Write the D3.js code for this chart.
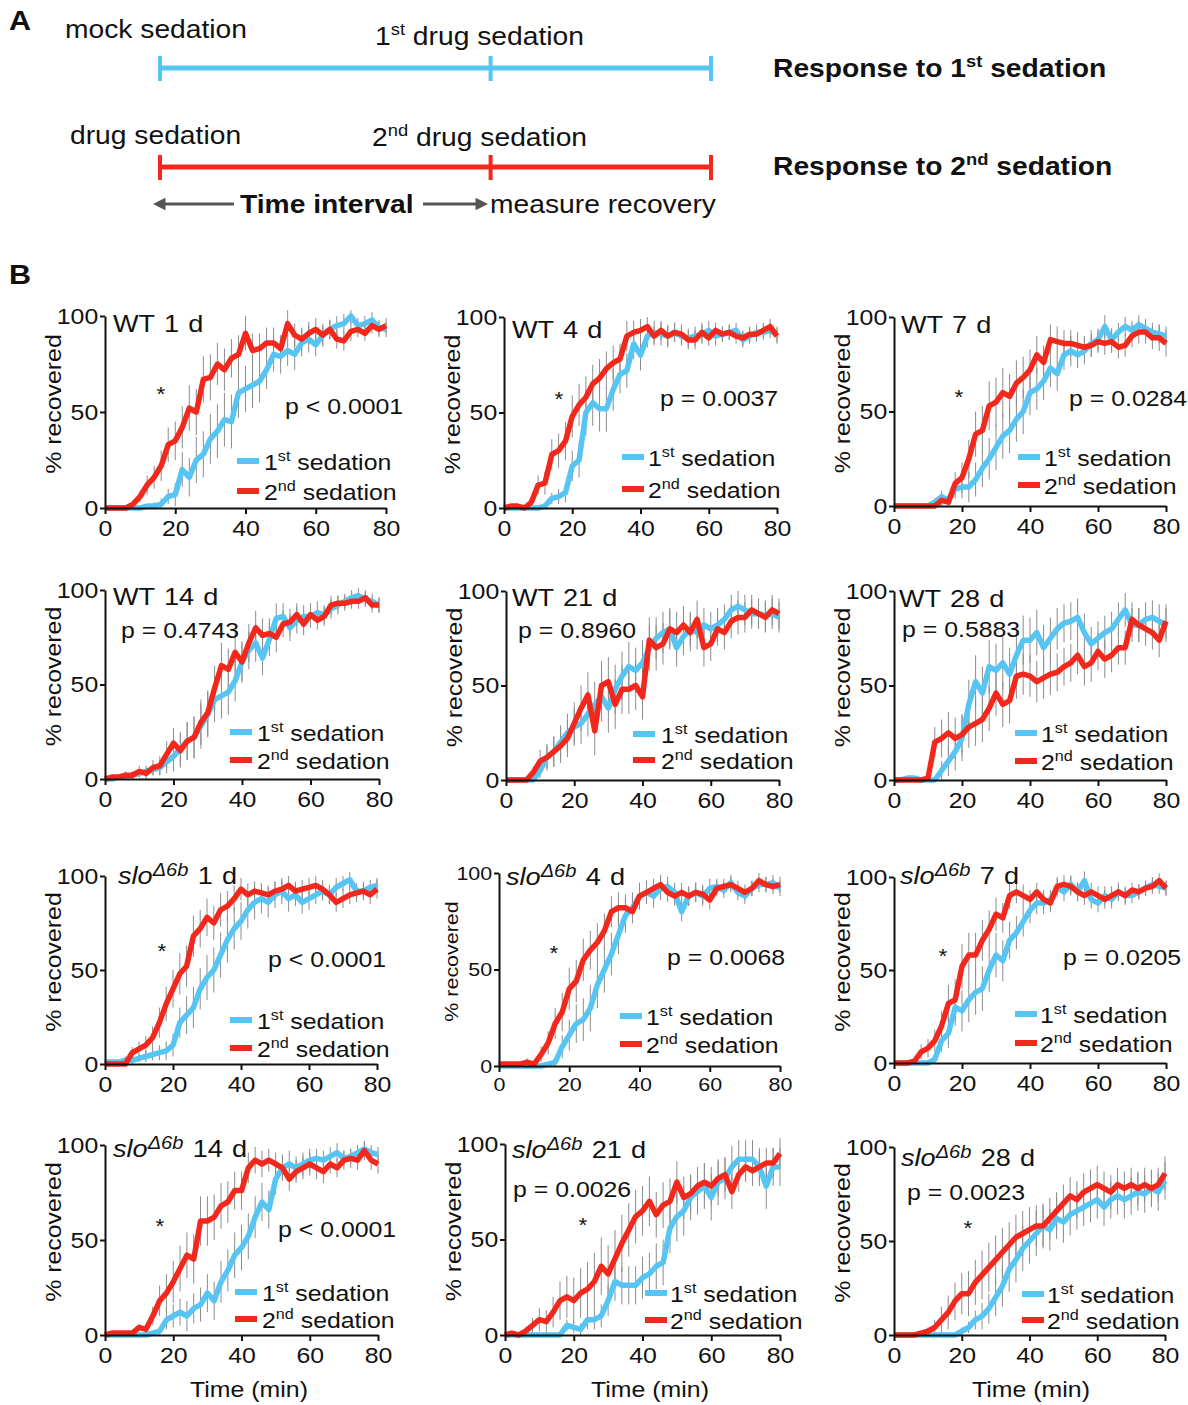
<!DOCTYPE html>
<html>
<head>
<meta charset="utf-8">
<script src="https://cdn.jsdelivr.net/npm/d3@7"></script>
<style>
  body { margin: 0; background: #fff; }
  svg text { font-family: Arial, "Liberation Sans", Helvetica, sans-serif; fill: #111; white-space: pre; }
</style>
</head>
<body>
<svg id="fig" width="1188" height="1405"></svg>
<script>
// ---- data (every 2 min) ----
const minutes = [0,2,4,6,8,10,12,14,16,18,20,22,24,26,28,30,32,34,36,38,40,42,44,46,48,50,52,54,56,58,60,62,64,66,68,70,72,74,76,78,80];
const xTicks = [0, 20, 40, 60, 80];
const yTicks = [0, 50, 100];

const wt1First  = [0,0,0,0,0, 0,1,1,2,6, 7,20,16,25,28, 36,40,46,45,60, 62,64,66,72,80, 79,82,80,86,88, 85,90,93,95,96, 100,95,96,98,94, 93];
const wt1Second = [0,0,0,0,2, 6,12,16,22,33, 35,42,52,50,67, 68,75,72,78,80, 91,82,83,86,86, 83,96,90,88,91, 93,90,93,88,87, 92,93,91,95,93, 95];
const wt4First  = [0,0,0,0,0, 0,1,5,6,8, 22,25,50,55,52, 52,62,70,72,86, 80,90,92,91,90, 92,90,89,90,91, 93,90,91,92,93, 88,90,92,92,93, 91];
const wt4Second = [0,1,1,0,3, 12,13,28,30,35, 48,54,58,65,68, 73,76,78,90,92, 93,95,90,93,90, 92,91,88,88,92, 89,93,91,92,90, 89,91,91,93,95, 90];
const wt7First  = [0,0,0,0,0, 0,2,5,3,9, 10,10,14,20,25, 31,37,40,46,50, 60,62,66,73,70, 80,82,80,82,86, 88,95,88,92,95, 93,96,94,92,91, 90];
const wt7Second = [0,0,0,0,0, 0,0,3,2,12, 15,25,38,40,53, 55,60,58,65,68, 72,80,76,88,87, 86,86,85,84,85, 87,86,87,84,85, 90,92,92,89,89, 86];
const wt14First  = [0,0,1,1,2, 3,4,5,6,9, 12,16,20,22,28, 34,42,44,46,52, 62,68,72,64,74, 85,86,80,84,86, 86,88,87,90,92, 94,96,97,95,94, 92];
const wt14Second = [0,1,1,2,2, 4,3,6,7,13, 19,15,20,22,30, 35,48,60,58,67, 62,72,80,76,77, 75,82,83,87,82, 87,84,86,92,93, 93,94,94,96,92, 92];
const wt21First  = [0,0,0,0,0, 5,12,15,20,25, 28,30,35,40,44, 38,48,55,60,58, 62,70,75,78,80, 70,76,80,78,82, 80,82,85,90,92, 90,88,88,87,88, 86];
const wt21Second = [0,0,0,0,4, 10,12,15,18,22, 30,38,45,26,50, 52,40,48,48,50, 44,74,70,72,80, 78,82,78,85,70, 72,80,78,84,86, 86,90,88,86,90, 88];
const wt28First  = [0,0,1,1,0, 0,0,5,10,15, 22,40,52,46,60, 58,62,56,66,74, 74,78,70,75,80, 83,84,86,78,72, 75,78,80,85,90, 82,82,85,86,84, 82];
const wt28Second = [0,0,0,0,0, 1,20,22,25,22, 24,28,30,32,38, 46,40,42,55,56, 55,52,54,56,57, 60,62,66,60,62, 68,64,66,70,70, 85,82,80,78,74, 84];
const slo1First  = [1,1,1,2,2, 3,4,5,6,7, 10,22,26,30,40, 46,50,58,66,72, 76,82,86,88,86, 90,92,88,90,86, 88,90,92,90,94, 96,98,92,92,94, 95];
const slo1Second = [0,0,0,0,6, 8,10,14,22,32, 40,48,52,68,72, 78,75,82,84,88, 93,90,92,91,90, 92,93,95,92,93, 94,95,93,90,86, 88,90,91,92,90, 93];
const slo4First  = [0,0,0,0,0, 0,0,1,2,10, 16,22,24,30,42, 50,58,68,78,82, 88,90,88,92,93, 90,80,88,90,88, 92,93,91,95,90, 88,92,94,94,95, 92];
const slo4Second = [1,1,1,1,2, 1,6,12,22,28, 40,44,55,60,64, 70,80,82,82,80, 88,90,92,94,90, 88,90,88,90,89, 86,92,93,94,92, 90,92,96,94,93, 94];
const slo7First  = [0,0,0,0,0, 0,2,12,16,30, 28,34,38,40,50, 58,55,66,70,76, 82,86,86,88,94, 92,96,92,98,88, 86,90,88,92,90, 90,92,94,96,95, 94];
const slo7Second = [0,0,0,1,6, 8,12,20,32,34, 52,58,58,66,72, 80,78,90,92,90, 88,92,88,86,95, 96,95,92,90,92, 90,88,90,92,90, 93,92,94,95,98, 94];
const slo14First  = [0,0,0,0,0, 0,0,1,2,8, 10,12,10,14,16, 22,18,28,34,42, 46,52,62,70,66, 82,88,90,88,90, 92,93,92,94,96, 93,94,96,98,96, 95];
const slo14Second = [0,1,1,1,1, 4,3,10,18,22, 28,35,42,40,60, 60,62,68,70,76, 76,88,92,90,92, 90,88,82,86,88, 90,88,86,90,88, 92,93,92,97,92, 90];
const slo21First  = [0,0,0,0,0, 0,0,0,0,5, 4,3,8,8,10, 18,28,26,26,26, 30,32,36,38,56, 62,65,72,75,78, 72,80,82,88,92, 92,92,88,78,88, 88];
const slo21Second = [0,1,0,2,5, 8,7,12,18,20, 18,22,24,28,36, 32,40,48,55,62, 65,70,63,68,70, 80,72,74,78,80, 78,82,84,75,84, 88,86,88,90,90, 95];
const slo28First  = [0,0,0,0,0, 0,0,0,0,0, 2,4,8,10,14, 20,26,35,40,46, 50,54,58,56,62, 60,64,66,68,70, 72,68,72,74,72, 74,76,75,78,76, 82];
const slo28Second = [0,0,0,0,1, 2,4,8,12,18, 22,22,28,32,36, 40,44,48,52,54, 56,58,58,62,66, 70,74,72,76,78, 80,78,76,80,78, 80,78,80,78,80, 86];

// SEM (error bars)
const wt1FirstSem  = [0,0,0,0,0, 1,1,2,3,4, 6,9,10,12,12, 13,14,14,14,13, 12,12,11,10,9, 9,8,8,7,7, 6,6,5,5,5, 4,4,4,4,4, 4];
const wt1SecondSem = [0,0,0,0,2, 3,5,6,8,9, 10,11,12,12,12, 12,11,11,10,10, 9,9,8,8,8, 7,7,6,6,6, 6,5,5,5,5, 5,4,4,4,4, 4];
const wt4FirstSem  = [0,0,0,0,0, 0,1,3,4,5, 8,9,12,12,12, 12,11,10,9,8, 8,6,6,6,6, 5,5,5,5,5, 5,5,4,4,4, 4,4,4,4,4, 4];
const wt4SecondSem = [0,1,1,0,2, 5,6,8,9,10, 11,11,11,10,10, 9,9,8,8,6, 6,5,5,5,5, 5,5,5,5,5, 4,4,4,4,4, 4,4,4,4,4, 4];
const wt7FirstSem  = [0,0,0,0,0, 0,2,3,3,5, 6,8,9,10,11, 12,12,12,12,12, 12,11,10,10,9, 8,8,7,7,7, 6,6,6,5,5, 5,5,5,5,5, 5];
const wt7SecondSem = [0,0,0,0,0, 0,0,3,3,6, 8,10,12,13,13, 13,13,12,12,11, 11,10,9,8,8, 7,7,7,6,6, 6,6,6,6,6, 6,6,6,6,7, 7];
const wt14FirstSem  = [0,1,1,1,2, 2,3,3,4,6, 8,9,10,11,12, 12,12,12,12,11, 11,10,10,9,9, 8,7,7,7,6, 6,6,5,5,5, 4,4,4,4,4, 4];
const wt14SecondSem = [0,1,1,2,2, 3,3,4,5,7, 8,9,10,11,12, 12,12,12,11,11, 10,10,9,9,8, 8,7,7,6,6, 6,5,5,5,4, 4,4,4,4,4, 4];
const wt21FirstSem  = [0,0,0,0,0, 4,6,8,9,10, 10,11,12,12,13, 13,13,13,13,12, 12,12,11,11,10, 10,10,9,9,9, 9,9,8,8,8, 8,8,8,8,8, 8];
const wt21SecondSem = [0,0,0,0,3, 6,7,8,9,10, 11,12,12,13,13, 13,13,13,13,13, 12,12,12,11,11, 11,10,10,10,10, 9,9,9,9,9, 8,8,8,8,8, 8];
const wt28FirstSem  = [0,0,1,1,0, 0,0,5,8,10, 12,13,14,14,14, 14,14,14,13,13, 12,12,12,11,11, 10,10,10,10,9, 9,9,9,9,9, 9,9,9,9,9, 9];
const wt28SecondSem = [0,0,0,0,0, 1,8,10,11,11, 11,11,12,12,12, 12,12,12,12,11, 11,11,11,11,10, 10,10,10,10,10, 10,10,9,9,9, 9,9,9,9,9, 9];
const slo1FirstSem  = [1,1,1,2,2, 2,3,3,4,5, 6,8,10,11,11, 12,12,12,12,11, 10,10,9,8,8, 7,7,7,6,6, 6,5,5,5,5, 4,4,4,4,4, 4];
const slo1SecondSem = [0,0,0,0,3, 4,5,6,8,9, 10,11,11,11,10, 10,9,9,8,7, 6,6,5,5,5, 5,5,5,5,5, 5,5,5,5,5, 5,5,5,5,5, 5];
const slo4FirstSem  = [0,0,0,0,0, 0,0,1,2,6, 8,10,11,12,12, 12,11,10,9,8, 7,6,6,6,5, 5,5,5,5,5, 5,4,4,4,4, 4,4,4,4,4, 4];
const slo4SecondSem = [1,1,1,1,2, 2,4,6,8,10, 11,11,11,10,10, 9,8,8,7,6, 6,6,5,5,5, 5,5,5,5,5, 5,4,4,4,4, 4,4,4,4,4, 4];
const slo7FirstSem  = [0,0,0,0,0, 0,2,6,8,10, 11,12,12,12,12, 12,11,10,9,8, 7,6,6,5,5, 5,5,5,5,5, 5,5,5,5,5, 4,4,4,4,4, 4];
const slo7SecondSem = [0,0,0,1,4, 5,6,8,10,11, 12,12,12,11,10, 9,8,7,6,6, 5,5,5,5,5, 5,5,5,5,5, 5,5,5,4,4, 4,4,4,4,4, 4];
const slo14FirstSem  = [0,0,0,0,0, 0,0,1,2,5, 6,7,8,8,9, 10,10,11,11,12, 12,12,11,10,10, 8,7,7,6,6, 6,5,5,5,5, 4,4,4,4,4, 4];
const slo14SecondSem = [0,1,1,1,1, 2,2,5,8,10, 11,12,12,13,13, 13,12,12,11,10, 10,8,7,7,6, 6,6,6,6,6, 6,6,6,5,5, 5,5,5,5,5, 5];
const slo21FirstSem  = [0,0,0,0,0, 0,0,0,0,3, 3,3,5,5,6, 8,10,10,10,10, 11,11,12,12,13, 13,13,12,12,12, 12,12,11,11,10, 10,10,10,12,10, 10];
const slo21SecondSem = [0,1,0,2,4, 6,6,8,10,11, 12,13,14,15,15, 15,15,15,14,14, 13,13,12,12,12, 11,11,10,10,10, 10,9,9,9,9, 8,8,8,8,8, 8];
const slo28FirstSem  = [0,0,0,0,0, 0,0,0,0,0, 2,3,5,7,8, 10,11,12,12,12, 12,12,12,11,11, 11,11,10,10,10, 10,10,10,10,10, 10,10,10,10,10, 10];
const slo28SecondSem = [0,0,0,0,1, 2,4,7,9,10, 11,12,12,13,13, 13,13,12,12,12, 12,11,11,11,10, 10,10,10,10,10, 10,9,9,9,9, 9,9,9,9,9, 9];

const panelGenotype = ["WT","WT","WT","WT","WT","WT","slo","slo","slo","slo","slo","slo"];
const panelDay = ["1 d","4 d","7 d","14 d","21 d","28 d","1 d","4 d","7 d","14 d","21 d","28 d"];
const panelP = ["p < 0.0001","p = 0.0037","p = 0.0284","p = 0.4743","p = 0.8960","p = 0.5883",
                "p < 0.0001","p = 0.0068","p = 0.0205","p < 0.0001","p = 0.0026","p = 0.0023"];
const panelStar = [true,true,true,false,false,false,true,true,true,true,true,true];
const firstSed  = [wt1First, wt4First, wt7First, wt14First, wt21First, wt28First, slo1First, slo4First, slo7First, slo14First, slo21First, slo28First];
const secondSed = [wt1Second, wt4Second, wt7Second, wt14Second, wt21Second, wt28Second, slo1Second, slo4Second, slo7Second, slo14Second, slo21Second, slo28Second];
const firstSem  = [wt1FirstSem, wt4FirstSem, wt7FirstSem, wt14FirstSem, wt21FirstSem, wt28FirstSem, slo1FirstSem, slo4FirstSem, slo7FirstSem, slo14FirstSem, slo21FirstSem, slo28FirstSem];
const secondSem = [wt1SecondSem, wt4SecondSem, wt7SecondSem, wt14SecondSem, wt21SecondSem, wt28SecondSem, slo1SecondSem, slo4SecondSem, slo7SecondSem, slo14SecondSem, slo21SecondSem, slo28SecondSem];

// protocol schematic: start, 2nd sedation, end of recovery (fraction of the bar)
const protocolStages = [0, 0.6, 1];

// ---- layout ----
const layout = [
  {x0:105, x1:386, y0:316, y1:508,  title:[113,332],  p:[285,414],  star:[161,390],  leg:[237,461,491,264]},
  {x0:504, x1:777, y0:317, y1:508,  title:[512,338],  p:[660,406],  star:[559,395],  leg:[622,457,489,648]},
  {x0:894, x1:1166,y0:317, y1:506,  title:[901,333],  p:[1069,406], star:[959,393],  leg:[1018,457,485,1044]},
  {x0:105, x1:379, y0:590, y1:779,  title:[113,605],  p:[121,638],  star:null,       leg:[230,732,760,257]},
  {x0:506, x1:779, y0:591, y1:780,  title:[512,606],  p:[518,638],  star:null,       leg:[633,734,760,661]},
  {x0:894, x1:1166,y0:591, y1:780,  title:[899,607],  p:[902,637],  star:null,       leg:[1015,733,761,1041]},
  {x0:105, x1:377, y0:876, y1:1064, title:[118,884],  p:[268,967],  star:[162,947],  leg:[230,1020,1048,257]},
  {x0:499, x1:780, y0:873, y1:1066, title:[506,885],  p:[667,965],  star:[554,949],  leg:[620,1016,1044,646], fs:19},
  {x0:894, x1:1166,y0:877, y1:1063, title:[900,884],  p:[1063,965], star:[943,952],  leg:[1015,1014,1043,1040]},
  {x0:105, x1:378, y0:1145,y1:1335, title:[113,1157], p:[278,1237], star:[160,1222], leg:[235,1292,1319,262], xlab:249},
  {x0:505, x1:780, y0:1144,y1:1335, title:[512,1158], p:[513,1197], star:[583,1221], leg:[645,1293,1320,670], xlab:650},
  {x0:894, x1:1165,y0:1147,y1:1335, title:[901,1166], p:[907,1200], star:[968,1224], leg:[1022,1294,1320,1047], xlab:1031}
];

const SX = 1.13;          // glyphs in the figure are a bit wider than Arial
const BLUE = "#57c5f3";
const RED = "#f3281d";
const svg = d3.select("#fig");

function txt(parent, x, y, size, opts = {}) {
  const t = parent.append("text")
    .attr("transform", `translate(${x},${y}) ${opts.rotate ? "rotate(-90) " : ""}scale(${SX},1)`)
    .attr("font-size", size)
    .attr("text-anchor", opts.anchor || "start");
  if (opts.bold) t.attr("font-weight", "bold");
  return t;
}

// text made of runs, some raised as superscript
function rich(t, parts, size, supRatio = 0.65, rise = 0.42) {
  let shift = 0;
  parts.forEach(p => {
    const ts = t.append("tspan").text(p.s);
    const target = p.sup ? -size * rise : 0;
    if (target !== shift) { ts.attr("dy", target - shift); shift = target; }
    if (p.sup) ts.attr("font-size", size * supRatio);
    if (p.it) ts.attr("font-style", "italic");
  });
  return t;
}

// ---------------- Panel A ----------------
const defs = svg.append("defs");
defs.append("marker").attr("id", "head")
  .attr("viewBox", "0 0 10 10").attr("refX", 2).attr("refY", 5)
  .attr("markerWidth", 4.2).attr("markerHeight", 4.2).attr("orient", "auto")
  .append("path").attr("d", "M0,0 L10,5 L0,10 z").attr("fill", "#555");

const gA = svg.append("g");
txt(gA, 9, 30, 27, {bold: true}).text("A");
txt(gA, 65, 38, 25).text("mock sedation");
rich(txt(gA, 375, 45, 25), [{s: "1"}, {s: "st", sup: true}, {s: " drug sedation"}], 25);
txt(gA, 70, 144, 25).text("drug sedation");
rich(txt(gA, 372, 146, 25), [{s: "2"}, {s: "nd", sup: true}, {s: " drug sedation"}], 25);
rich(txt(gA, 773, 77, 25, {bold: true}), [{s: "Response to 1"}, {s: "st", sup: true}, {s: " sedation"}], 25);
rich(txt(gA, 773, 175, 25, {bold: true}), [{s: "Response to 2"}, {s: "nd", sup: true}, {s: " sedation"}], 25);

const px = d3.scaleLinear().domain([0, 1]).range([160, 711]);
[[68, BLUE], [167, RED]].forEach(([yy, col]) => {
  gA.append("line").attr("x1", px(0)).attr("x2", px(1)).attr("y1", yy).attr("y2", yy)
    .attr("stroke", col).attr("stroke-width", 5);
  gA.selectAll(null).data(protocolStages).join("line")
    .attr("x1", d => px(d)).attr("x2", d => px(d))
    .attr("y1", yy - 12).attr("y2", yy + 13)
    .attr("stroke", col).attr("stroke-width", 4);
});
gA.append("line").attr("x1", 234).attr("x2", 163).attr("y1", 204).attr("y2", 204)
  .attr("stroke", "#555").attr("stroke-width", 3).attr("marker-end", "url(#head)");
gA.append("line").attr("x1", 423).attr("x2", 478).attr("y1", 204).attr("y2", 204)
  .attr("stroke", "#555").attr("stroke-width", 3).attr("marker-end", "url(#head)");
txt(gA, 240, 213, 25, {bold: true}).text("Time interval");
txt(gA, 490, 213, 25).text("measure recovery");

// ---------------- Panel B ----------------
txt(svg, 9, 284, 27, {bold: true}).text("B");

layout.forEach((L, i) => {
  const x = d3.scaleLinear().domain([0, 80]).range([L.x0, L.x1]);
  const y = d3.scaleLinear().domain([0, 100]).range([L.y1, L.y0]);
  const fs = L.fs || 22;
  const g = svg.append("g");

  // error bars
  [[firstSed[i], firstSem[i]], [secondSed[i], secondSem[i]]].forEach(([vals, sem]) => {
    g.append("g").selectAll("line").data(minutes).join("line")
      .attr("x1", m => x(m)).attr("x2", m => x(m))
      .attr("y1", (m, j) => y(Math.max(0, vals[j] - sem[j])))
      .attr("y2", (m, j) => y(Math.min(103, vals[j] + sem[j])))
      .attr("stroke", "#8c8c8c").attr("stroke-width", 1);
  });

  const line = d3.line().x((d, j) => x(minutes[j])).y(d => y(d));
  g.append("path").datum(firstSed[i]).attr("d", line)
    .attr("fill", "none").attr("stroke", BLUE).attr("stroke-width", 5.5).attr("stroke-linejoin", "round");
  g.append("path").datum(secondSed[i]).attr("d", line)
    .attr("fill", "none").attr("stroke", RED).attr("stroke-width", 5.5).attr("stroke-linejoin", "round");

  // axes
  const ax = g.append("g").attr("transform", `translate(0,${L.y1})`)
    .call(d3.axisBottom(x).tickValues(xTicks).tickSize(6).tickPadding(6).tickSizeOuter(0));
  const ay = g.append("g").attr("transform", `translate(${L.x0},0)`)
    .call(d3.axisLeft(y).tickValues(yTicks).tickSize(5).tickPadding(1).tickSizeOuter(0));
  [ax, ay].forEach(a => {
    a.attr("font-family", null).attr("font-size", null);
    a.select(".domain").attr("stroke", "#111").attr("stroke-width", 2);
    a.selectAll(".tick line").attr("stroke", "#111").attr("stroke-width", 2);
    a.selectAll(".tick text").attr("font-size", fs).attr("fill", "#111")
      .attr("transform", `scale(${SX},1)`);
  });

  txt(g, L.x0 - (fs < 22 ? 41 : 44), (L.y0 + L.y1) / 2 - 8, fs, {rotate: true, anchor: "middle"})
    .text("% recovered");

  // title
  const tt = txt(g, L.title[0], L.title[1], 24).attr("word-spacing", 1.5);
  if (panelGenotype[i] === "WT") {
    rich(tt, [{s: "WT " + panelDay[i]}], 24);
  } else {
    rich(tt, [{s: "slo", it: true}, {s: "\u0394" + "6b", sup: true, it: true}, {s: " " + panelDay[i]}], 24, 0.74, 0.32);
  }

  txt(g, L.p[0], L.p[1], 22).text(panelP[i]);
  if (panelStar[i]) txt(g, L.star[0], L.star[1] + 11, 20, {anchor: "middle"}).text("*");

  // legend
  const [lx, r1, r2, tx] = L.leg;
  [[r1, BLUE, "1", "st"], [r2, RED, "2", "nd"]].forEach(([ry, col, n, sup]) => {
    g.append("line").attr("x1", lx).attr("x2", lx + 22).attr("y1", ry).attr("y2", ry)
      .attr("stroke", col).attr("stroke-width", 6);
    rich(txt(g, tx, ry + 9, 22), [{s: n}, {s: sup, sup: true}, {s: " sedation"}], 22);
  });

  if (L.xlab) txt(g, L.xlab, 1397, 22, {anchor: "middle"}).text("Time (min)");
});
</script>
</body>
</html>
